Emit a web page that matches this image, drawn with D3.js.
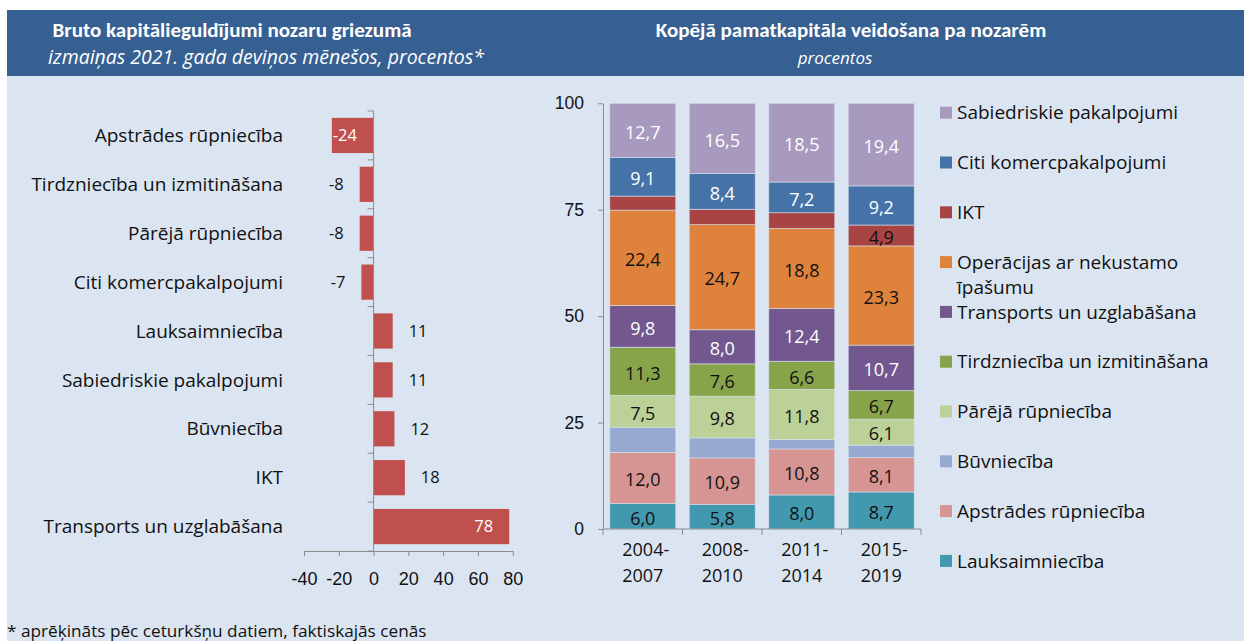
<!DOCTYPE html>
<html>
<head>
<meta charset="utf-8">
<script src="https://cdn.jsdelivr.net/npm/d3@7"></script>
<style>
    body { margin: 0; background: #fff; }
    svg { display: block; font-family: "Open Sans", sans-serif; }
    .head { font-family: Carlito, Calibri, Lato, sans-serif; }
</style>
</head>
<body>
<div id="container"></div>
<script>
// left chart: change in 9 months of 2021, %
var sectors = ["Apstrādes rūpniecība", "Tirdzniecība un izmitināšana", "Pārējā rūpniecība",
    "Citi komercpakalpojumi", "Lauksaimniecība", "Sabiedriskie pakalpojumi", "Būvniecība",
    "IKT", "Transports un uzglabāšana"];
var changes = [-24, -8, -8, -7, 11, 11, 12, 18, 78];
var changeTicks = [-40, -20, 0, 20, 40, 60, 80];

// right chart: share of gross fixed capital formation, %
var periods = ["2004-2007", "2008-2010", "2011-2014", "2015-2019"];
var seriesNames = ["Lauksaimniecība", "Apstrādes rūpniecība", "Būvniecība", "Pārējā rūpniecība",
    "Tirdzniecība un izmitināšana", "Transports un uzglabāšana", "Operācijas ar nekustamo īpašumu",
    "IKT", "Citi komercpakalpojumi", "Sabiedriskie pakalpojumi"];
var lauksaimnieciba = [6.0, 5.8, 8.0, 8.7];
var apstrade = [12.0, 10.9, 10.8, 8.1];
var buvnieciba = [5.9, 4.7, 2.2, 2.9];
var parejaRupn = [7.5, 9.8, 11.8, 6.1];
var tirdznieciba = [11.3, 7.6, 6.6, 6.7];
var transports = [9.8, 8.0, 12.4, 10.7];
var nekustamais = [22.4, 24.7, 18.8, 23.3];
var ikt = [3.3, 3.6, 3.7, 4.9];
var citiKomerc = [9.1, 8.4, 7.2, 9.2];
var sabiedriskie = [12.7, 16.5, 18.5, 19.4];
var shareTicks = [0, 25, 50, 75, 100];
// segments that carry no value label in the original
var noLabel = { "Būvniecība": [0, 1, 2, 3], "IKT": [0, 1, 2] };

var seriesValues = [lauksaimnieciba, apstrade, buvnieciba, parejaRupn, tirdznieciba,
    transports, nekustamais, ikt, citiKomerc, sabiedriskie];
var colors = ["#4198af", "#d69593", "#95a9d1", "#bcd198", "#87a44b", "#72588f",
    "#df823b", "#a94444", "#4573a8", "#a899be"];
var whiteText = ["Transports un uzglabāšana", "Citi komercpakalpojumi", "Sabiedriskie pakalpojumi"];

var W = 1244, H = 641;
var svg = d3.select("#container").append("svg")
    .attr("width", W)
    .attr("height", H);

svg.append("rect").attr("width", W).attr("height", H).attr("fill", "#fff");
svg.append("rect").attr("x", 7).attr("y", 76).attr("width", W - 7).attr("height", H - 76)
    .attr("fill", "#dbe5f1");
svg.append("rect").attr("x", 7).attr("y", 10).attr("width", W - 7).attr("height", 66)
    .attr("fill", "#366092");

// headers
svg.append("text").attr("class", "head").attr("x", 232).attr("y", 37).attr("text-anchor", "middle")
    .attr("fill", "#fff").attr("font-weight", "bold").attr("font-size", 21)
    .text("Bruto kapitālieguldījumi nozaru griezumā");
svg.append("text").attr("x", 266).attr("y", 64).attr("text-anchor", "middle")
    .attr("fill", "#fff").attr("font-style", "italic").attr("font-size", 19.5)
    .text("izmaiņas 2021. gada deviņos mēnešos, procentos*");
svg.append("text").attr("class", "head").attr("x", 851).attr("y", 37).attr("text-anchor", "middle")
    .attr("fill", "#fff").attr("font-weight", "bold").attr("font-size", 21)
    .text("Kopējā pamatkapitāla veidošana pa nozarēm");
svg.append("text").attr("x", 835).attr("y", 64).attr("text-anchor", "middle")
    .attr("fill", "#fff").attr("font-style", "italic").attr("font-size", 17)
    .text("procentos");

svg.append("text").attr("x", 7).attr("y", 637).attr("font-size", 17.2).attr("fill", "#111")
    .text("* aprēķināts pēc ceturkšņu datiem, faktiskajās cenās");

// ---------- left chart ----------
var x = d3.scaleLinear().domain([-40, 80]).range([304, 512.7]);
var y = d3.scaleBand().domain(sectors).range([111, 551]).paddingInner(0.28).paddingOuter(0.14);

var left = svg.append("g");

left.selectAll(".bar")
    .data(sectors)
    .enter().append("rect")
        .attr("class", "bar")
        .attr("x", function(d, i) { return x(Math.min(0, changes[i])); })
        .attr("y", function(d) { return y(d); })
        .attr("width", function(d, i) { return Math.abs(x(changes[i]) - x(0)); })
        .attr("height", y.bandwidth())
        .attr("fill", "#c0504d");

var xAxis = left.append("g")
    .attr("transform", "translate(0,551)")
    .call(d3.axisBottom(x).tickValues(changeTicks).tickFormat(function(d) { return String(d); })
        .tickSize(5).tickSizeOuter(0).tickPadding(16));
xAxis.selectAll("text").attr("font-size", 18).attr("fill", "#111").style("font-family", "inherit");
xAxis.selectAll("line, path").attr("stroke", "#8c8c8c");

// category axis with ticks between bands
var step = y.step();
var bounds = d3.range(sectors.length + 1).map(function(i) {
    return y(sectors[0]) - y.paddingInner() * step / 2 + i * step;
});
left.append("line").attr("x1", x(0)).attr("x2", x(0))
    .attr("y1", bounds[0]).attr("y2", 551).attr("stroke", "#8c8c8c");
left.selectAll(".ytick").data(bounds).enter().append("line")
    .attr("x1", x(0) - 6).attr("x2", x(0))
    .attr("y1", function(d) { return d; }).attr("y2", function(d) { return d; })
    .attr("stroke", "#8c8c8c");

left.selectAll(".cat").data(sectors).enter().append("text")
    .attr("x", 283)
    .attr("y", function(d) { return y(d) + y.bandwidth() / 2; })
    .attr("dy", "0.35em")
    .attr("text-anchor", "end")
    .attr("font-size", 19).attr("fill", "#111")
    .text(function(d) { return d; });

left.selectAll(".val").data(sectors).enter().append("text")
    .attr("x", function(d, i) {
        var v = changes[i];
        if (v === -24) return x(v) + 1;
        if (v === 78) return x(v) - 16;
        return v < 0 ? x(v) - 16 : x(v) + 16;
    })
    .attr("y", function(d) { return y(d) + y.bandwidth() / 2; })
    .attr("dy", "0.35em")
    .attr("text-anchor", function(d, i) {
        var v = changes[i];
        if (v === -24) return "start";
        if (v === 78) return "end";
        return v < 0 ? "end" : "start";
    })
    .attr("font-size", 16.5)
    .attr("fill", function(d, i) { return (changes[i] === -24 || changes[i] === 78) ? "#fff" : "#111"; })
    .text(function(d, i) { return changes[i]; });

// ---------- right chart ----------
var rows = periods.map(function(p, j) {
    var row = { period: p };
    seriesNames.forEach(function(s, k) { row[s] = seriesValues[k][j]; });
    return row;
});
var stacked = d3.stack().keys(seriesNames)(rows);

var bx = d3.scaleBand().domain(periods).range([603, 921]).paddingInner(0.17).paddingOuter(0.085);
var by = d3.scaleLinear().domain([0, 100]).range([529, 103.3]);
var fmt = d3.format(".1f");

var right = svg.append("g");

var layers = right.selectAll(".layer")
    .data(stacked)
    .enter().append("g")
        .attr("fill", function(d, k) { return colors[k]; });

layers.selectAll("rect")
    .data(function(d) { return d; })
    .enter().append("rect")
        .attr("x", function(d) { return bx(d.data.period); })
        .attr("y", function(d) { return by(d[1]); })
        .attr("width", bx.bandwidth())
        .attr("height", function(d) { return by(d[0]) - by(d[1]); })
        .attr("stroke", "#dbe5f1").attr("stroke-width", 0.8).attr("stroke-opacity", 0.7);

layers.selectAll("text")
    .data(function(d) {
        var skip = noLabel[d.key] || [];
        return d.map(function(v, j) { return { key: d.key, v: v, j: j }; })
            .filter(function(o) { return skip.indexOf(o.j) < 0; });
    })
    .enter().append("text")
        .attr("x", function(o) { return bx(o.v.data.period) + bx.bandwidth() / 2; })
        .attr("y", function(o) { return (by(o.v[0]) + by(o.v[1])) / 2 + 2; })
        .attr("dy", "0.35em")
        .attr("text-anchor", "middle")
        .attr("font-size", 18)
        .attr("fill", function(o) { return whiteText.indexOf(o.key) >= 0 ? "#fff" : "#111"; })
        .text(function(o) { return fmt(o.v.data[o.key]).replace(".", ","); });

var yAxisR = right.append("g")
    .attr("transform", "translate(603,0)")
    .call(d3.axisLeft(by).tickValues(shareTicks).tickSize(5).tickSizeOuter(0).tickPadding(14));
yAxisR.selectAll("text").attr("font-size", 17.5).attr("fill", "#111").style("font-family", "inherit");
yAxisR.selectAll("line, path").attr("stroke", "#8c8c8c");

right.append("line").attr("x1", 603).attr("x2", 921).attr("y1", 529).attr("y2", 529)
    .attr("stroke", "#8c8c8c");
var bstep = bx.step();
var xb = d3.range(periods.length + 1).map(function(i) {
    return bx(periods[0]) - bx.paddingInner() * bstep / 2 + i * bstep;
});
right.selectAll(".xtick").data(xb).enter().append("line")
    .attr("x1", function(d) { return d; }).attr("x2", function(d) { return d; })
    .attr("y1", 529).attr("y2", 535).attr("stroke", "#8c8c8c");

var plab = right.selectAll(".plab").data(periods).enter().append("text")
    .attr("x", function(d) { return bx(d) + bx.bandwidth() / 2; })
    .attr("text-anchor", "middle").attr("font-size", 18).attr("fill", "#111");
plab.append("tspan").attr("y", 556)
    .attr("x", function(d) { return bx(d) + bx.bandwidth() / 2 + 3; })
    .text(function(d) { return d.split("-")[0] + "-"; });
plab.append("tspan").attr("y", 582)
    .attr("x", function(d) { return bx(d) + bx.bandwidth() / 2; })
    .text(function(d) { return d.split("-")[1]; });

// legend, top to bottom
var legendItems = seriesNames.slice().reverse();
var legend = right.selectAll(".leg").data(legendItems).enter().append("g")
    .attr("transform", function(d, i) { return "translate(940," + (112.7 + i * 49.8) + ")"; });
legend.append("rect").attr("x", 0).attr("y", -6).attr("width", 12).attr("height", 12)
    .attr("fill", function(d) { return colors[seriesNames.indexOf(d)]; });
legend.append("text").attr("x", 17).attr("dy", "0.35em").attr("font-size", 19).attr("fill", "#111")
    .each(function(d) {
        var t = d3.select(this);
        if (d === "Operācijas ar nekustamo īpašumu") {
            t.append("tspan").attr("x", 17).text("Operācijas ar nekustamo");
            t.append("tspan").attr("x", 17).attr("dy", 25).text("īpašumu");
        } else {
            t.text(d);
        }
    });
</script>
</body>
</html>
